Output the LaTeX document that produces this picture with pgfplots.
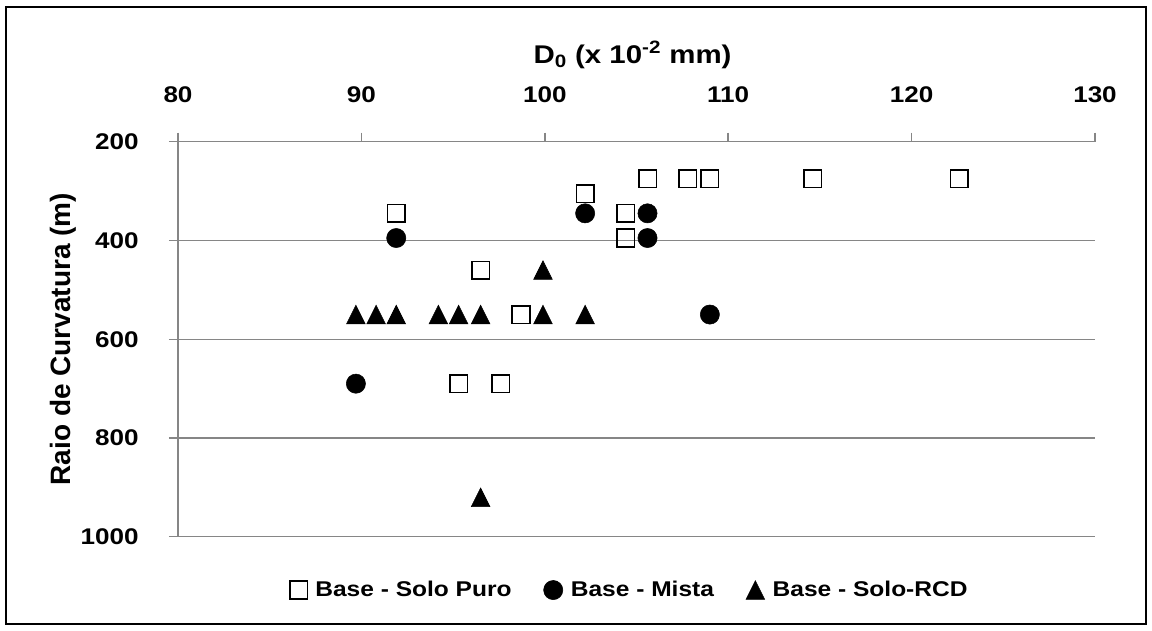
\documentclass[border=0pt]{standalone}
\usepackage{fontspec}
\setmainfont{Liberation Sans}[FakeStretch=1.15]
\newfontfamily\ylabfont{Liberation Sans}
\usepackage{pgfplots}
\pgfplotsset{compat=1.18}
\definecolor{axgray}{RGB}{134,134,134}
\pgfdeclareplotmark{xltri}{%
  \pgfpathmoveto{\pgfqpoint{-\pgfplotmarksize}{-\pgfplotmarksize}}%
  \pgfpathlineto{\pgfqpoint{\pgfplotmarksize}{-\pgfplotmarksize}}%
  \pgfpathlineto{\pgfqpoint{0pt}{\pgfplotmarksize}}%
  \pgfpathclose
  \pgfusepathqfillstroke
}
\begin{document}
\begin{tikzpicture}
\path[use as bounding box] (0,0) rectangle (864pt,473.25pt);
\draw[black, line width=1pt] (4.5pt,5.25pt) rectangle (859.5pt,468pt);
\begin{axis}[
  scale only axis,
  width=687.75pt, height=296.25pt,
  at={(133.5pt,70.7pt)}, anchor=south west,
  xmin=80, xmax=130, ymin=200, ymax=1000,
  y dir=reverse,
  xtick={80,90,...,130}, ytick={200,400,...,1000},
  axis x line=top, axis y line=left,
  axis line style={-, draw=axgray, line width=1.1pt},
  tick align=outside, major tick length=6.75pt,
  tick style={draw=axgray, line width=1.1pt},
  ymajorgrids, grid style={draw=axgray, line width=1.1pt},
  /pgf/number format/assume math mode=true,
  /pgf/number format/1000 sep={},
  tick label style={font=\fontsize{17}{20}\selectfont\bfseries, inner sep=0pt},
  xticklabel style={anchor=south, yshift=22.5pt},
  yticklabel style={anchor=east, xshift=-22.5pt},
  xlabel={D\textsubscript{0} (x 10\textsuperscript{-2} mm)},
  xlabel style={at={(axis description cs:0.5,1)}, anchor=base, yshift=58.8pt, xshift=-3pt, font=\fontsize{19.2}{22}\selectfont\bfseries},
  clip=false,
  legend image code/.code={\draw[#1] plot coordinates {(0pt,0pt)};},
  legend columns=3,
  legend style={draw=none, fill=none, at={(axis description cs:0.4929,-0.135)}, anchor=center,
    font=\fontsize{16}{19}\selectfont\bfseries,
    /tikz/every odd column/.append style={column sep=4pt},
    /tikz/every even column/.append style={column sep=22pt}},
]
\addplot[only marks, mark=square, mark size=6.6pt, mark options={draw=black, fill=white, line width=1.2pt}] coordinates {
(91.9,345) (96.5,460) (98.7,550) (95.3,690) (97.6,690) (102.2,305) (104.4,345) (104.4,395)
(105.6,275) (107.8,275) (109.0,275) (114.6,275) (122.6,275)};
\addlegendentry{Base - Solo Puro}
\addplot[only marks, mark=*, mark size=7.2pt, mark options={draw=black, fill=black, line width=0.4pt}] coordinates {
(91.9,395) (89.7,690) (102.2,345) (105.6,345) (105.6,395) (109.0,550)};
\addlegendentry{Base - Mista}
\addplot[only marks, mark=xltri, mark size=7pt, mark options={draw=black, fill=black, line width=0.4pt}] coordinates {
(89.7,550) (90.8,550) (91.9,550) (94.2,550) (95.3,550) (96.5,550) (99.9,550) (102.2,550) (99.9,460) (96.5,920)};
\addlegendentry{Base - Solo-RCD}
\end{axis}
\node[rotate=90, anchor=base, font=\ylabfont\fontsize{21}{24}\selectfont\bfseries] at (52.5pt,219pt) {Raio de Curvatura (m)};
\end{tikzpicture}
\end{document}
